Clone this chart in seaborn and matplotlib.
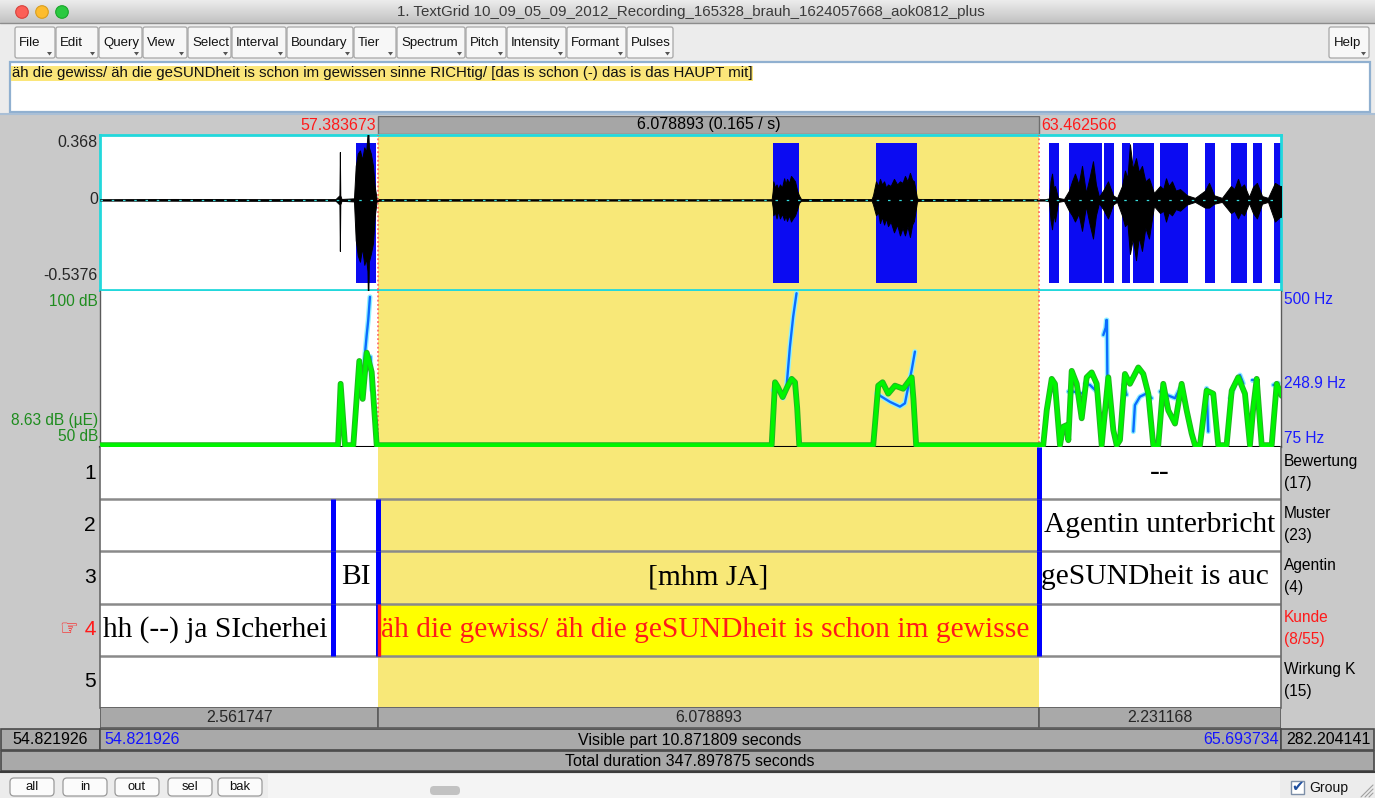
import numpy as np
import pandas as pd
import matplotlib
matplotlib.use("Agg")
import matplotlib.pyplot as plt
import matplotlib.transforms as mtransforms
from matplotlib.patches import Rectangle, FancyBboxPatch, Circle, Polygon
from matplotlib.colors import LinearSegmentedColormap
import seaborn as sns

sns.set_theme(style="white")
plt.rcParams["font.family"] = ["Liberation Sans", "DejaVu Sans"]

# ---------------------------------------------------------------- data
window_title = "1. TextGrid 10_09_05_09_2012_Recording_165328_brauh_1624057668_aok0812_plus"
menu_labels = ["File", "Edit", "Query", "View", "Select", "Interval", "Boundary",
               "Tier", "Spectrum", "Pitch", "Intensity", "Formant", "Pulses"]
editor_text = ("äh die gewiss/ äh die geSUNDheit is schon im gewissen sinne RICHtig/ "
               "[das is schon (-) das is das HAUPT mit]")
zoom_buttons = ["all", "in", "out", "sel", "bak"]

view_start, view_end = 54.821926, 65.693734
sel_start, sel_end = 57.383673, 63.462566
total_duration = 347.897875
visible_label = "Visible part 10.871809 seconds"

amp_max, amp_min = 0.368, -0.5376

# waveform envelope (seconds, upper, lower amplitude)
wave_t = [54.822, 55.500, 56.300, 56.990, 57.026, 57.030, 57.034, 57.045, 57.160, 57.176,
          57.195, 57.215, 57.235, 57.255, 57.272, 57.284, 57.288, 57.292, 57.297, 57.315,
          57.335, 57.352, 57.368, 57.390, 59.000, 61.005, 61.015, 61.020, 61.035, 61.050,
          61.065, 61.081, 61.100, 61.120, 61.133, 61.146, 61.165, 61.183, 61.200, 61.220,
          61.240, 61.256, 61.275, 61.925, 61.938, 61.965, 61.985, 62.002, 62.020, 62.040,
          62.058, 62.076, 62.100, 62.131, 62.160, 62.186, 62.210, 62.232, 62.255, 62.278,
          62.298, 62.315, 62.343, 62.360, 63.000, 63.521, 63.558, 63.572, 63.586, 63.600,
          63.613, 63.641, 63.696, 63.742, 63.770, 63.797, 63.830, 63.862, 63.898, 63.930,
          63.963, 63.990, 64.018, 64.064, 64.101, 64.147, 64.184, 64.230, 64.257, 64.280,
          64.303, 64.330, 64.359, 64.385, 64.414, 64.445, 64.478, 64.524, 64.580, 64.610,
          64.635, 64.660, 64.690, 64.725, 64.764, 64.828, 64.902, 64.994, 65.031, 65.077,
          65.150, 65.233, 65.265, 65.298, 65.325, 65.353, 65.399, 65.436, 65.472, 65.519,
          65.574, 65.638, 65.684, 65.694]
wave_hi = [0.004, 0.006, 0.005, 0.005, 0.03, 0.31, 0.03, 0.006, 0.01, 0.22,
           0.30, 0.32, 0.26, 0.34, 0.31, 0.42, 0.45, 0.45, 0.34, 0.30,
           0.22, 0.08, 0.012, 0.005, 0.004, 0.004, 0.06, 0.12, 0.08, 0.10,
           0.07, 0.10, 0.08, 0.14, 0.10, 0.136, 0.11, 0.155, 0.14, 0.12,
           0.06, 0.03, 0.006, 0.005, 0.03, 0.12, 0.09, 0.136, 0.10, 0.12,
           0.08, 0.10, 0.09, 0.136, 0.10, 0.12, 0.11, 0.155, 0.12, 0.175,
           0.13, 0.12, 0.01, 0.006, 0.005, 0.004, 0.01, 0.12, 0.17, 0.08,
           0.09, 0.013, 0.006, 0.06, 0.12, 0.17, 0.10, 0.22, 0.045, 0.14,
           0.25, 0.10, 0.02, 0.07, 0.12, 0.03, 0.013, 0.09, 0.19, 0.14,
           0.36, 0.20, 0.27, 0.18, 0.22, 0.12, 0.14, 0.045, 0.09, 0.07,
           0.14, 0.09, 0.12, 0.06, 0.07, 0.03, 0.013, 0.06, 0.11, 0.03,
           0.013, 0.09, 0.07, 0.136, 0.08, 0.10, 0.02, 0.085, 0.11, 0.025,
           0.013, 0.11, 0.09, 0.09]
wave_lo = [-0.004, -0.005, -0.006, -0.005, -0.03, -0.33, -0.03, -0.006, -0.01, -0.26,
           -0.36, -0.40, -0.31, -0.42, -0.38, -0.46, -0.62, -0.62, -0.40, -0.35,
           -0.28, -0.10, -0.012, -0.005, -0.004, -0.004, -0.05, -0.10, -0.08, -0.12,
           -0.07, -0.12, -0.09, -0.13, -0.10, -0.136, -0.10, -0.14, -0.12, -0.10,
           -0.06, -0.02, -0.006, -0.005, -0.03, -0.10, -0.08, -0.15, -0.11, -0.16,
           -0.12, -0.17, -0.14, -0.21, -0.16, -0.23, -0.18, -0.23, -0.17, -0.24,
           -0.16, -0.136, -0.01, -0.006, -0.005, -0.004, -0.01, -0.13, -0.19, -0.09,
           -0.14, -0.013, -0.006, -0.07, -0.10, -0.14, -0.09, -0.20, -0.04, -0.15,
           -0.25, -0.10, -0.02, -0.07, -0.12, -0.03, -0.013, -0.10, -0.17, -0.15,
           -0.35, -0.25, -0.39, -0.24, -0.33, -0.18, -0.25, -0.04, -0.085, -0.07,
           -0.14, -0.08, -0.10, -0.06, -0.07, -0.03, -0.013, -0.05, -0.05, -0.025,
           -0.013, -0.085, -0.07, -0.12, -0.08, -0.10, -0.02, -0.085, -0.12, -0.025,
           -0.013, -0.14, -0.11, -0.11]

# glottal pulse stretches (seconds)
pulse_start = [57.178, 61.017, 61.962, 63.558, 63.742, 64.064, 64.230, 64.327, 64.578,
               64.994, 65.230, 65.436, 65.629]
pulse_end = [57.363, 61.256, 62.345, 63.650, 64.042, 64.152, 64.300, 64.524, 64.838,
             65.087, 65.380, 65.519, 65.691]

# intensity contour (dB)
intensity_t = [54.822, 57.013, 57.037, 57.077, 57.154, 57.209, 57.240, 57.277, 57.323, 57.369,
               61.005, 61.036, 61.060, 61.106, 61.150, 61.189, 61.220, 61.240, 61.259,
               61.940, 61.986, 62.026, 62.078, 62.140, 62.216, 62.294, 62.310, 62.335,
               63.505, 63.537, 63.583, 63.613, 63.659, 63.690, 63.721, 63.736, 63.767, 63.813,
               63.859, 63.905, 63.951, 63.997, 64.043, 64.104, 64.150, 64.181, 64.211, 64.257,
               64.303, 64.380, 64.426, 64.472, 64.518, 64.564, 64.610, 64.656, 64.718, 64.779,
               64.825, 64.871, 64.902, 64.948, 65.009, 65.070, 65.116, 65.193, 65.240, 65.300,
               65.362, 65.408, 65.439, 65.470, 65.516, 65.608, 65.654, 65.700]
intensity_db = [50, 50, 69.9, 50, 50, 77.3, 65.0, 80.0, 73.7, 50,
                50, 70.4, 69.0, 65.6, 69.0, 71.5, 70.4, 62.0, 50,
                50, 69.3, 70.4, 66.7, 69.3, 68.3, 72.0, 65.0, 50,
                50, 61.3, 71.5, 69.9, 50, 56.0, 56.5, 51.6, 74.1, 69.9,
                58.7, 72.0, 73.6, 69.9, 50, 72.0, 54.9, 50, 51.6, 73.1,
                69.9, 75.2, 73.1, 66.7, 50, 50, 69.9, 61.3, 57.0, 69.9,
                61.3, 53.8, 50, 50, 67.7, 66.7, 50, 50, 67.7, 72.0,
                66.7, 50, 62.4, 71.5, 50, 50, 69.9, 66.0]

# pitch contour (Hz), split into voiced stretches
pitch_seg = [0, 0, 0, 0, 0, 1, 1,
             2, 2, 2, 2, 2, 2, 2, 2,
             3, 3, 3, 3, 3, 3, 3, 3,
             4, 4, 5, 5, 5, 6, 6, 6,
             7, 7, 7, 7, 7, 8, 8,
             9, 9, 9, 9, 9, 10, 10, 10, 10,
             11, 11, 12, 12, 12, 12, 13, 13, 14, 14]
pitch_t = [57.231, 57.252, 57.277, 57.291, 57.307, 57.312, 57.323,
           61.019, 61.050, 61.080, 61.111, 61.142, 61.173, 61.203, 61.234,
           61.971, 62.017, 62.094, 62.186, 62.232, 62.262, 62.294, 62.324,
           63.567, 63.598, 63.736, 63.782, 63.859, 63.889, 63.935, 63.997,
           64.058, 64.080, 64.086, 64.091, 64.096, 64.242, 64.273,
           64.334, 64.349, 64.395, 64.457, 64.503, 64.580, 64.641, 64.718, 64.764,
           65.009, 65.024, 65.224, 65.270, 65.316, 65.347, 65.424, 65.470, 65.623, 65.669]
pitch_hz = [253, 300, 380, 420, 484, 321, 230,
            230, 244, 225, 208, 239, 348, 430, 494,
            221, 212, 198, 185, 194, 239, 285, 335,
            226, 230, 226, 226, 221, 248, 244, 226,
            380, 400, 421, 421, 250, 244, 217,
            117, 189, 212, 221, 208, 226, 217, 208, 235,
            235, 117, 208, 244, 271, 248, 258, 258, 244, 249]

# TextGrid tiers
tier_names = ["Bewertung", "Muster", "Agentin", "Kunde", "Wirkung K"]
tier_counts = ["(17)", "(23)", "(4)", "(8/55)", "(15)"]
selected_tier = 4
boundary_tier = [1, 2, 2, 2, 3, 3, 3, 4, 4, 4]
boundary_time = [63.462566, 56.967, 57.383673, 63.462566, 56.967, 57.383673, 63.462566,
                 56.967, 57.383673, 63.462566]
label_tier = [1, 2, 3, 3, 3, 4, 4]
label_start = [63.462566, 63.462566, 56.967, 57.383673, 63.462566, 53.900, 57.383673]
label_end = [66.300, 66.300, 57.383673, 63.462566, 66.300, 56.967, 63.462566]
label_text = ["--", "Agentin unterbricht", "BI", "[mhm JA]", "geSUNDheit is auch",
              "hh (--) ja SIcherheit", editor_text]

# ---------------------------------------------------------------- layout / style
W, H, DPI = 1375, 798, 100
X0, X1 = 100, 1281
PLOT_W = X1 - X0
SEC_PER_PX = (view_end - view_start) / PLOT_W

GREY = "#c9c9c9"
BAR_GREY = "#a9a9a9"
SEL_YELLOW = "#f8e878"
PULSE_BLUE = "#0b0bf2"
TIER_BLUE = "#0000ff"
RED = "#ff1a1a"
DB_GREEN = "#1e8c1e"
HZ_BLUE = "#1a1aff"


def fs(pixels):
    return pixels * 72 / DPI


fig = plt.figure(figsize=(W / DPI, H / DPI), dpi=DPI)
canvas = fig.add_axes([0, 0, 1, 1], zorder=0)
canvas.axis("off")


def place(x, y, w, h):
    return fig.add_axes([x / W, 1 - (y + h) / H, w / W, h / H], zorder=2)


def box(x, y, w, h, fc, ec="none", lw=1.0, z=1):
    canvas.add_patch(Rectangle((x, y), w, h, facecolor=fc, edgecolor=ec, linewidth=lw, zorder=z))


def rbox(x, y, w, h, fc, ec, lw=1.0, r=3, z=2):
    canvas.add_patch(FancyBboxPatch((x, y), w, h, boxstyle=f"round,pad=0,rounding_size={r}",
                                    facecolor=fc, edgecolor=ec, linewidth=lw, zorder=z))


def txt(x, y, s, size=16, color="black", ha="left", va="center", z=5, **kw):
    return canvas.text(x, y, s, fontsize=fs(size), color=color, ha=ha, va=va, zorder=z, **kw)


# window background and title bar
box(0, 0, W, H, "#ececec", z=0)
title_cm = LinearSegmentedColormap.from_list("title", ["#ececec", "#c2c2c2"])
canvas.imshow(np.linspace(0, 1, 32).reshape(-1, 1), extent=(0, W, 23, 0), cmap=title_cm,
              aspect="auto", zorder=0.5, interpolation="bilinear")
canvas.plot([0, W], [23, 23], color="#8c8c8c", lw=1, zorder=1)
for cx, fc, ec in [(22, "#fc5f57", "#d8433d"), (42, "#fdbc2e", "#d99e1f"), (62, "#2ac940", "#1aa52b")]:
    canvas.add_patch(Circle((cx, 12), 6.3, facecolor=fc, edgecolor=ec, lw=0.8, zorder=2))
txt(691, 12, window_title, size=15, color="#3a3a3a", ha="center")

# menu buttons
menu_edges = [15, 56, 99, 143, 188, 232, 287, 354, 397, 466, 507, 567, 627, 674]
for i, name in enumerate(menu_labels):
    x0, x1 = menu_edges[i], menu_edges[i + 1] - 1
    rbox(x0, 27, x1 - x0, 31, "#f7f7f7", "#a6a6a6", lw=0.9, r=2)
    txt(x0 + 4, 43, name, size=13.2, color="#111111")
    canvas.add_patch(Polygon([(x1 - 8, 52), (x1 - 3, 52), (x1 - 5.5, 55.5)],
                             closed=True, facecolor="#555555", edgecolor="none", zorder=6))
rbox(1329, 27, 40, 31, "#f7f7f7", "#a6a6a6", lw=0.9, r=2)
txt(1334, 43, "Help", size=13.2, color="#111111")
canvas.add_patch(Polygon([(1361, 52), (1366, 52), (1363.5, 55.5)], closed=True,
                         facecolor="#555555", edgecolor="none", zorder=6))

# text field with the selected interval's text
box(10, 62, 1360, 50, "white", ec="#90b0d0", lw=1.6, z=1)
hl = txt(12, 73.5, editor_text, size=15, color="#111111")
hl.set_bbox(dict(facecolor="#fbe67a", edgecolor="none", pad=0.5))

# grey editor area
box(0, 113, W, 659, GREY, z=1)
canvas.plot([0, W], [113.5, 113.5], color="#a9bfd6", lw=1.5, zorder=2)

# ------------------------------------------------ selection time bar
tb = place(X0, 116, PLOT_W, 18)
tb.set_xlim(view_start, view_end)
tb.set_ylim(0, 1)
tb.set_facecolor(GREY)
tb.bar([sel_start], height=[1], width=[sel_end - sel_start], bottom=0, align="edge",
       color="#a6a6a6", edgecolor="#6e6e6e", linewidth=1)
tb.text(sel_start - 2 * SEC_PER_PX, 0.5, f"{sel_start:.6f}", color=RED, ha="right", va="center",
        fontsize=fs(16))
tb.text(sel_end + 3 * SEC_PER_PX, 0.5, f"{sel_end:.6f}", color=RED, ha="left", va="center",
        fontsize=fs(16))
tb.text((sel_start + sel_end) / 2, 0.5,
        f"{sel_end - sel_start:.6f} ({1 / (sel_end - sel_start):.3f} / s)",
        ha="center", va="center", fontsize=fs(16), color="black")
tb.axis("off")

# ------------------------------------------------ waveform
wa = place(X0, 135, PLOT_W, 155)
wa.set_xlim(view_start, view_end)
span = amp_max - amp_min
wa.set_ylim(amp_min - 7 / 140 * span, amp_max + 8 / 140 * span)
wa.set_facecolor("white")
wa.axvspan(sel_start, sel_end, color=SEL_YELLOW, zorder=0.5, lw=0)
wa.bar(pulse_start, height=span, width=np.subtract(pulse_end, pulse_start), bottom=amp_min,
       align="edge", color=PULSE_BLUE, linewidth=0, zorder=1)
wa.axhline(0, color="black", lw=1.0, zorder=2)
wa.fill_between(wave_t, wave_lo, wave_hi, color="black", linewidth=0.7, zorder=3)
wa.axhline(0, color="#35dede", lw=0.9, ls=(0, (2, 7)), zorder=3.5)
for t in (sel_start, sel_end):
    wa.axvline(t, color="#ff5a5a", lw=1.1, ls=(0, (1.2, 1.6)), zorder=5)
for sp in wa.spines.values():
    sp.set_color("#22d8dc")
    sp.set_linewidth(2)
wa.set_xticks([])
wa.set_yticks([])
ytr = mtransforms.blended_transform_factory(wa.transAxes, wa.transData)
wa.text(-2 / PLOT_W, amp_max, f"{amp_max:g}", transform=ytr, ha="right", va="center",
        fontsize=fs(16), clip_on=False)
wa.text(-2 / PLOT_W, 0, "0", transform=ytr, ha="right", va="center", fontsize=fs(16), clip_on=False)
wa.text(-2 / PLOT_W, amp_min, f"{amp_min:g}", transform=ytr, ha="right", va="bottom",
        fontsize=fs(16), clip_on=False)

# ------------------------------------------------ pitch (back) and intensity (front)
pa = place(X0, 291, PLOT_W, 156)
pa.set_facecolor("white")
pa.axvspan(sel_start, sel_end, color=SEL_YELLOW, zorder=0.5, lw=0)
pitch_df = pd.DataFrame({"t": pitch_t, "hz": pitch_hz, "seg": pitch_seg})
sns.lineplot(data=pitch_df, x="t", y="hz", units="seg", estimator=None, sort=False,
             color="#8ff0ff", linewidth=3.6, ax=pa, legend=False)
sns.lineplot(data=pitch_df, x="t", y="hz", units="seg", estimator=None, sort=False,
             color="#0a6cff", linewidth=1.7, ax=pa, legend=False)
pa.set_xlim(view_start, view_end)
pa.set_ylim(75, 500)
for t in (sel_start, sel_end):
    pa.axvline(t, color="#ff5a5a", lw=1.1, ls=(0, (1.2, 1.6)), zorder=5)
pa.spines["top"].set_visible(False)
pa.spines["bottom"].set_color("black")
pa.spines["bottom"].set_linewidth(1.5)
for s in ("left", "right"):
    pa.spines[s].set_color("#5a5a5a")
    pa.spines[s].set_linewidth(1.0)

ia = pa.twinx()
ia.patch.set_visible(False)
sns.lineplot(x=intensity_t, y=intensity_db, estimator=None, sort=False, color="#22b422",
             linewidth=4.2, ax=ia, legend=False)
sns.lineplot(x=intensity_t, y=intensity_db, estimator=None, sort=False, color="#00f500",
             linewidth=2.8, ax=ia, legend=False)
ia.set_xlim(view_start, view_end)
ia.set_ylim(49.4, 100)
for s in ia.spines.values():
    s.set_visible(False)
for ax in (pa, ia):
    ax.set_xticks([])
    ax.set_yticks([])
    ax.set_xlabel("")
    ax.set_ylabel("")

ltr = mtransforms.blended_transform_factory(ia.transAxes, ia.transData)
ia.text(-2 / PLOT_W, 99, "100 dB", transform=ltr, ha="right", va="top", color=DB_GREEN,
        fontsize=fs(15.5), clip_on=False)
ia.text(-2 / PLOT_W, 50.3, "50 dB", transform=ltr, ha="right", va="bottom", color=DB_GREEN,
        fontsize=fs(15.5), clip_on=False)
ia.text(-2 / PLOT_W, 55.5, "8.63 dB (\u00b5E)", transform=ltr, ha="right", va="bottom",
        color=DB_GREEN, fontsize=fs(15.5), clip_on=False)
rtr = mtransforms.blended_transform_factory(pa.transAxes, pa.transData)
pa.text(1 + 3 / PLOT_W, 497, "500 Hz", transform=rtr, ha="left", va="top", color=HZ_BLUE,
        fontsize=fs(15.5), clip_on=False)
pa.text(1 + 3 / PLOT_W, 248.9, "248.9 Hz", transform=rtr, ha="left", va="center", color=HZ_BLUE,
        fontsize=fs(15.5), clip_on=False)
pa.text(1 + 3 / PLOT_W, 78, "75 Hz", transform=rtr, ha="left", va="bottom", color=HZ_BLUE,
        fontsize=fs(15.5), clip_on=False)

# ------------------------------------------------ tiers
ta = place(X0, 447, PLOT_W, 261)
ta.set_xlim(view_start, view_end)
ta.set_ylim(len(tier_names), 0)
ta.set_facecolor("white")
ta.axvspan(sel_start, sel_end, color=SEL_YELLOW, zorder=0.5, lw=0)
ta.fill_between([sel_start, sel_end], selected_tier - 1, selected_tier, color="#ffff00",
                zorder=0.6, lw=0)
for k in range(1, len(tier_names)):
    ta.axhline(k, color="#8a8a8a", lw=1.8, zorder=2)
for tier, t in zip(boundary_tier, boundary_time):
    ta.vlines(t, tier - 1, tier, color=TIER_BLUE, lw=3.6, zorder=3)
    if tier == selected_tier and t == sel_start:
        ta.vlines(t + 0.6 * SEC_PER_PX, tier - 1, tier, color=RED, lw=2.4, zorder=3.5)
for s in ("top", "bottom"):
    ta.spines[s].set_visible(False)
for s in ("left", "right"):
    ta.spines[s].set_color("#6a6a6a")
    ta.spines[s].set_linewidth(1.2)
ta.set_xticks([])
ta.set_yticks([])

# interval texts: centred when they fit, otherwise left-aligned and cut to the interval
renderer = fig.canvas.get_renderer()
for tier, t0, t1, s in zip(label_tier, label_start, label_end, label_text):
    a, b = max(t0, view_start), min(t1, view_end)
    width_px = (b - a) / SEC_PER_PX
    color = RED if (tier == selected_tier and t0 == sel_start) else "black"
    lab = ta.text((a + b) / 2, tier - 0.5, s, ha="center", va="center", color=color,
                  fontsize=fs(29.5), family=["Liberation Serif", "DejaVu Serif"], zorder=4)
    if lab.get_window_extent(renderer).width > width_px - 6:
        lab.set_x(a + 2.5 * SEC_PER_PX)
        lab.set_ha("left")
        shown = s
        while shown and lab.get_window_extent(renderer).width > width_px - 3.5:
            shown = shown[:-1]
            lab.set_text(shown)

ntr = mtransforms.blended_transform_factory(ta.transAxes, ta.transData)
for i, (name, cnt) in enumerate(zip(tier_names, tier_counts), start=1):
    col = RED if i == selected_tier else "black"
    num = f"\u261e {i}" if i == selected_tier else str(i)
    ta.text(-4 / PLOT_W, i - 0.5, num, transform=ntr, ha="right", va="center", color=col,
            fontsize=fs(21), clip_on=False)
    ta.text(1 + 3 / PLOT_W, i - 0.73, name, transform=ntr, ha="left", va="center", color=col,
            fontsize=fs(15.5), clip_on=False)
    ta.text(1 + 3 / PLOT_W, i - 0.31, cnt, transform=ntr, ha="left", va="center", color=col,
            fontsize=fs(15.5), clip_on=False)

# ------------------------------------------------ interval durations
da = place(X0, 707, PLOT_W, 21)
da.set_xlim(view_start, view_end)
da.set_ylim(0, 1)
seg_a = [view_start, sel_start, sel_end]
seg_b = [sel_start, sel_end, view_end]
da.bar(seg_a, height=1, width=np.subtract(seg_b, seg_a), bottom=0, align="edge", color=BAR_GREY,
       edgecolor="#5c5c5c", linewidth=1.2)
for a, b in zip(seg_a, seg_b):
    da.text((a + b) / 2, 0.5, f"{b - a:.6f}", ha="center", va="center", fontsize=fs(16))
da.axis("off")

# ------------------------------------------------ visible / total rows
box(0.5, 729, 99.5, 21, BAR_GREY, ec="#4a4a4a", lw=1.2, z=2)
box(X0, 729, PLOT_W, 21, BAR_GREY, ec="#4a4a4a", lw=1.2, z=2)
box(X1, 729, W - X1 - 0.5, 21, BAR_GREY, ec="#4a4a4a", lw=1.2, z=2)
txt(50, 740, f"{view_start:.6f}", ha="center")
txt(X0 + 4, 740, f"{view_start:.6f}", color="#1414ff")
txt(690, 740, visible_label, ha="center")
txt(X1 - 2, 740, f"{view_end:.6f}", color="#1414ff", ha="right")
txt(1328, 740, f"{total_duration - view_end:.6f}", ha="center")
box(0.5, 751, W - 1, 20, BAR_GREY, ec="#4a4a4a", lw=1.2, z=2)
txt(690, 761, f"Total duration {total_duration:.6f} seconds", ha="center")
canvas.plot([0, W], [772, 772], color="#3c3c3c", lw=1.5, zorder=3)

# ------------------------------------------------ bottom controls
box(0, 773, W, 25, "#ececec", z=1)
box(268, 774, 1012, 24, "#f4f4f4", z=1.5)
for name, x0 in zip(zoom_buttons, [10, 63, 115, 168, 218]):
    rbox(x0, 778, 44, 18, "#fbfbfb", "#9a9a9a", lw=0.9, r=4)
    txt(x0 + 22, 787, name, size=13, ha="center", color="#111111")
rbox(430, 786, 30, 9, "#c2c2c2", "none", r=4, z=3)
box(1291, 781, 13, 13, "white", ec="#7d8fa8", lw=1, z=3)
txt(1297.5, 786, "\u2714", size=15, color="#1f4f9f", ha="center", family=["DejaVu Sans"])
txt(1309, 788, "Group", size=14, color="#111111")
for k in (4, 8, 12):
    canvas.plot([1373 - k, 1373], [797, 797 - k], color="#a0a0a0", lw=0.8, zorder=3)

canvas.set_xlim(0, W)
canvas.set_ylim(H, 0)

fig.savefig("out.png", dpi=DPI)
